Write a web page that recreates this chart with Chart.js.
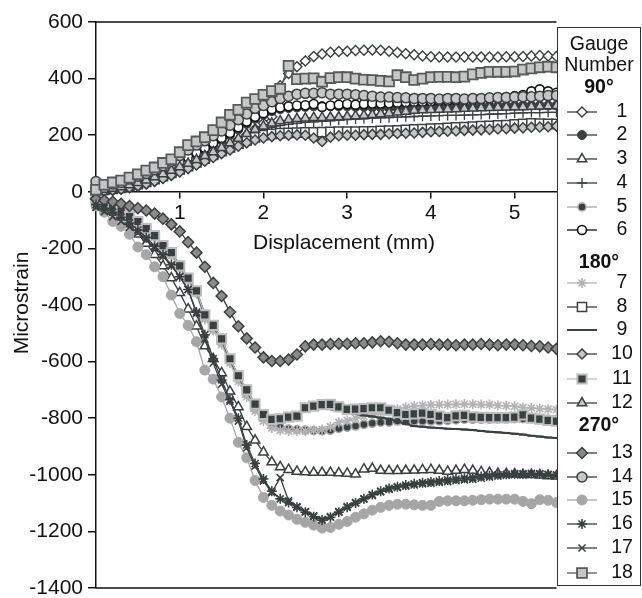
<!DOCTYPE html>
<html><head><meta charset="utf-8">
<script src="https://cdn.jsdelivr.net/npm/chart.js@4.4.0/dist/chart.umd.min.js"></script>
<style>html,body{margin:0;padding:0;background:#fff;}#wrap{position:relative;width:642px;height:598px;}</style>
</head><body><div id="wrap"><canvas id="c" width="642" height="598"></canvas></div>
<script>
// ---- DATA ----
const displacement = [0,0.1,0.2,0.3,0.4,0.5,0.6,0.7,0.8,0.9,1.0,1.1,1.2,1.3,1.4,1.5,1.6,1.7,1.8,1.9,2.0,2.1,2.2,2.3,2.4,2.5,2.6,2.7,2.8,2.9,3.0,3.1,3.2,3.3,3.4,3.5,3.6,3.7,3.8,3.9,4.0,4.1,4.2,4.3,4.4,4.5,4.6,4.7,4.8,4.9,5.0,5.1,5.2,5.3,5.4,5.5];
const xTickValues = [1,2,3,4,5];
const yTickValues = [600,400,200,0,-200,-400,-600,-800,-1000,-1200,-1400];
const gaugeNames = ['1','2','3','4','5','6','7','8','9','10','11','12','13','14','15','16','17','18'];
const groupNames = ['90°','180°','270°'];
const legendTitle = ['Gauge','Number'];
const xTitle = 'Displacement (mm)';
const yTitle = 'Microstrain';

const gauge1 = [0,2,5,9,14,20,28,37,48,60,73,87,101,116,132,148,165,183,202,222,242,265,375,418,442,462,478,487,493,496,497,499,500,501,500,497,492,488,484,480,477,476,476,476,476,476,476,476,476,477,477,478,480,482,480,478];
const gauge2 = [10,12,16,22,30,40,50,62,75,88,102,116,132,148,165,182,200,220,240,258,272,285,292,296,298,300,302,303,303,302,302,300,300,298,298,296,296,297,298,298,300,300,300,301,302,302,303,303,304,304,304,305,305,305,305,305];
const gauge3 = [-25,-40,-60,-85,-115,-150,-183,-222,-262,-305,-357,-415,-475,-545,-590,-640,-705,-760,-830,-878,-920,-955,-972,-982,-988,-990,-992,-992,-992,-994,-995,-998,-980,-978,-985,-986,-986,-985,-984,-983,-982,-985,-988,-985,-982,-985,-990,-992,-995,-996,-998,-1000,-1000,-1002,-1004,-1005];
const gauge4 = [3,6,10,15,22,30,39,50,61,73,86,98,111,124,138,152,167,182,197,210,220,228,234,238,242,245,247,249,251,253,255,257,258,260,261,262,264,265,266,267,268,269,270,270,271,272,273,274,275,276,278,279,280,280,281,281];
const gauge5 = [-30,-36,-46,-62,-80,-102,-126,-155,-190,-222,-265,-310,-355,-445,-485,-532,-598,-660,-715,-765,-800,-822,-832,-838,-840,-842,-844,-845,-843,-836,-832,-828,-822,-818,-814,-814,-810,-810,-810,-810,-810,-810,-808,-806,-804,-804,-804,-804,-803,-803,-802,-802,-802,-803,-804,-805];
const gauge6 = [20,15,18,24,32,42,52,64,78,92,108,122,138,155,172,190,208,228,248,265,278,292,298,302,305,306,310,300,305,308,310,308,310,312,312,313,315,316,318,318,320,322,322,324,325,326,328,330,332,335,338,342,355,362,355,350];
const gauge7 = [-30,-35,-45,-62,-82,-105,-130,-160,-195,-225,-270,-315,-360,-450,-490,-540,-605,-670,-725,-775,-810,-835,-843,-845,-845,-845,-843,-840,-830,-815,-808,-800,-793,-786,-780,-775,-768,-762,-757,-755,-753,-752,-752,-751,-750,-751,-752,-752,-755,-756,-758,-762,-764,-766,-768,-770];
const gauge8 = [5,7,10,14,20,27,35,45,55,67,79,91,104,117,130,144,157,170,182,192,200,205,207,208,209,210,210,211,212,213,213,213,214,214,215,216,217,219,221,222,223,224,226,228,229,230,232,233,235,236,238,240,242,241,240,240];
const gauge9 = [-35,-42,-50,-66,-86,-104,-128,-153,-188,-214,-262,-306,-352,-436,-474,-522,-592,-652,-703,-752,-790,-805,-805,-795,-785,-768,-762,-760,-768,-772,-778,-785,-790,-794,-798,-802,-812,-820,-828,-830,-833,-835,-837,-838,-840,-842,-845,-848,-850,-852,-855,-858,-862,-865,-868,-870];
const gauge10 = [0,3,6,10,15,21,28,37,47,58,70,82,95,108,121,135,148,161,173,183,190,195,198,200,201,200,190,178,193,198,200,200,202,203,203,205,206,207,208,210,212,213,214,215,217,218,219,220,222,223,225,226,228,229,230,232];
const gauge11 = [-25,-45,-52,-68,-88,-105,-130,-155,-190,-215,-262,-305,-350,-435,-472,-520,-590,-650,-700,-750,-787,-804,-802,-796,-793,-763,-757,-752,-751,-760,-769,-768,-766,-763,-763,-772,-780,-787,-785,-782,-787,-793,-798,-792,-790,-795,-797,-798,-798,-798,-796,-788,-800,-803,-808,-810];
const gauge12 = [5,8,12,17,24,32,41,52,63,75,88,100,113,127,141,156,172,188,205,220,232,242,250,255,258,260,262,262,263,264,266,268,270,272,275,278,281,284,287,289,290,291,292,293,294,295,296,297,298,299,300,300,301,302,303,304];
const gauge13 = [-25,-30,-35,-42,-50,-58,-66,-77,-95,-115,-140,-178,-215,-265,-322,-368,-425,-475,-518,-550,-585,-598,-598,-593,-575,-546,-540,-540,-538,-537,-537,-535,-535,-532,-528,-530,-535,-540,-540,-540,-538,-540,-540,-542,-540,-540,-538,-540,-542,-540,-540,-542,-545,-546,-550,-555];
const gauge14 = [36,25,28,33,45,55,65,78,92,108,128,148,165,180,198,215,235,255,275,295,305,318,330,338,345,348,348,350,345,345,345,343,340,338,335,335,333,332,330,330,330,328,330,330,328,330,330,332,333,333,335,336,336,338,340,340];
const gauge15 = [-50,-72,-105,-122,-150,-195,-222,-265,-300,-365,-430,-472,-530,-630,-662,-725,-800,-885,-940,-1020,-1080,-1108,-1128,-1142,-1157,-1168,-1178,-1188,-1186,-1175,-1165,-1150,-1138,-1125,-1115,-1108,-1104,-1104,-1106,-1108,-1108,-1094,-1092,-1092,-1092,-1090,-1088,-1086,-1086,-1086,-1086,-1094,-1102,-1088,-1090,-1098];
const gauge16 = [-45,-58,-72,-90,-110,-135,-162,-192,-222,-258,-300,-345,-425,-505,-590,-665,-735,-800,-895,-960,-1015,-1058,-1085,-1098,-1115,-1132,-1148,-1160,-1150,-1132,-1115,-1100,-1085,-1070,-1058,-1048,-1042,-1036,-1032,-1028,-1025,-1022,-1018,-1015,-1012,-1010,-1006,-1003,-1000,-998,-996,-996,-995,-996,-998,-1000];
const gauge17 = [-55,-70,-88,-105,-125,-145,-170,-198,-228,-262,-300,-345,-430,-520,-605,-680,-740,-810,-905,-969,-1022,-1063,-1010,-1092,-1112,-1130,-1145,-1158,-1148,-1130,-1112,-1098,-1085,-1073,-1060,-1052,-1045,-1040,-1036,-1032,-1030,-1027,-1024,-1021,-1018,-1016,-1012,-1008,-1005,-1002,-1000,-1000,-998,-998,-1000,-1002];
const gauge18 = [7,25,33,40,50,62,75,86,102,115,140,165,178,193,218,245,272,290,315,328,343,356,364,445,398,400,401,389,402,405,405,400,396,395,392,390,412,405,395,400,405,406,406,405,407,415,420,424,424,424,425,432,436,440,442,440];

const gauges = [gauge1,gauge2,gauge3,gauge4,gauge5,gauge6,gauge7,gauge8,gauge9,gauge10,gauge11,gauge12,gauge13,gauge14,gauge15,gauge16,gauge17,gauge18];

// ---- STYLES ----
const DARK = '#3a3f3f', LIGHT = '#c6c6c6', MID = '#8a8a8a', PALE = '#a6a6a6';
const seriesStyles = [
  {style:'rectRot', r:5, fill:'#fff', stroke:DARK, bw:1.4, line:DARK},
  {style:'circle', r:4.5, fill:DARK, stroke:DARK, bw:1, line:DARK},
  {style:'triangle', r:5.5, fill:'#fff', stroke:DARK, bw:1.5, line:DARK},
  {style:'cross', r:5, fill:DARK, stroke:DARK, bw:1.3, line:DARK},
  {style:'circle', r:4, fill:DARK, stroke:PALE, bw:1.5, line:PALE},
  {style:'circle', r:4.5, fill:'#fff', stroke:'#111', bw:1.6, line:'#111'},
  {style:'star', r:5, fill:PALE, stroke:'#b3b3b3', bw:1.6, line:'#b3b3b3'},
  {style:'rect', r:6.5, fill:'#fff', stroke:DARK, bw:1.5, line:DARK},
  {style:'line', r:4, fill:DARK, stroke:DARK, bw:2, line:DARK, lw:2},
  {style:'rectRot', r:5, fill:LIGHT, stroke:DARK, bw:1.5, line:DARK},
  {style:'rect', r:6.5, fill:DARK, stroke:'#bdbdbd', bw:2, line:'#bdbdbd'},
  {style:'triangle', r:5.5, fill:LIGHT, stroke:DARK, bw:1.5, line:DARK},
  {style:'rectRot', r:5.5, fill:MID, stroke:DARK, bw:1.5, line:DARK},
  {style:'circle', r:5, fill:LIGHT, stroke:DARK, bw:1.5, line:DARK},
  {style:'circle', r:5, fill:PALE, stroke:PALE, bw:1, line:PALE},
  {style:'star', r:5, fill:DARK, stroke:DARK, bw:1.6, line:DARK},
  {style:'crossRot', r:5, fill:DARK, stroke:DARK, bw:1.6, line:DARK},
  {style:'rect', r:7, fill:LIGHT, stroke:'#555a5a', bw:1.8, line:'#555a5a'}
];
const FONT = '"Liberation Sans", Arial, Helvetica, sans-serif';

function myDrawPoint(ctx, o, x, y) {
  const r = o.radius; ctx.beginPath();
  switch (o.pointStyle) {
    case 'circle': ctx.arc(x, y, r, 0, Math.PI*2); break;
    case 'rect': { const s = Math.SQRT1_2*r; ctx.rect(x-s, y-s, 2*s, 2*s); break; }
    case 'rectRot': ctx.moveTo(x-r,y); ctx.lineTo(x,y-r); ctx.lineTo(x+r,y); ctx.lineTo(x,y+r); ctx.closePath(); break;
    case 'triangle': ctx.moveTo(x, y-r); ctx.lineTo(x+r*0.866, y+r/2); ctx.lineTo(x-r*0.866, y+r/2); ctx.closePath(); break;
    case 'cross': ctx.moveTo(x-r,y); ctx.lineTo(x+r,y); ctx.moveTo(x,y-r); ctx.lineTo(x,y+r); break;
    case 'crossRot': { const d = r*0.707; ctx.moveTo(x-d,y-d); ctx.lineTo(x+d,y+d); ctx.moveTo(x-d,y+d); ctx.lineTo(x+d,y-d); break; }
    case 'star': { const d = r*0.707; ctx.moveTo(x-r,y); ctx.lineTo(x+r,y); ctx.moveTo(x,y-r); ctx.lineTo(x,y+r); ctx.moveTo(x-d,y-d); ctx.lineTo(x+d,y+d); ctx.moveTo(x-d,y+d); ctx.lineTo(x+d,y-d); break; }
    case 'line': ctx.moveTo(x-r,y); ctx.lineTo(x+r,y); break;
  }
  ctx.fill(); if (o.borderWidth > 0) ctx.stroke();
}
const drawPt = (Chart.helpers && Chart.helpers.drawPoint) ? Chart.helpers.drawPoint : myDrawPoint;

const decor = {
  id: 'decor',
  afterDraw(chart) {
    const ctx = chart.ctx, a = chart.chartArea;
    ctx.save();
    ctx.strokeStyle = '#111'; ctx.lineWidth = 1.5;
    ctx.beginPath();
    ctx.moveTo(a.left, a.top); ctx.lineTo(a.right, a.top);
    ctx.moveTo(a.left, a.bottom); ctx.lineTo(a.right, a.bottom);
    ctx.stroke();
    ctx.fillStyle = '#111';
    ctx.font = '21px ' + FONT;
    ctx.textAlign = 'center'; ctx.textBaseline = 'middle';
    ctx.fillText(xTitle, 344, 243);
    ctx.save(); ctx.translate(22, 303); ctx.rotate(-Math.PI/2); ctx.fillText(yTitle, 0, 0); ctx.restore();
    const lx = 557, ly = 27, lw = 83, lh = 558;
    ctx.fillStyle = '#fff'; ctx.fillRect(lx, ly, lw, lh);
    ctx.strokeStyle = '#333'; ctx.lineWidth = 1;
    ctx.strokeRect(lx + 0.5, ly + 0.5, lw, lh);
    ctx.fillStyle = '#111';
    ctx.font = '19.5px ' + FONT;
    ctx.fillText(legendTitle[0], 599, 45);
    ctx.fillText(legendTitle[1], 599, 66);
    ctx.font = 'bold 19.5px ' + FONT;
    const groupY = [88, 263, 426];
    groupNames.forEach((g, i) => ctx.fillText(g, 599, groupY[i]));
    const rowY = [112,135,159,183,207,230, 283,307,330,354,379,403, 453,477,500,524,548,573];
    ctx.font = '19.5px ' + FONT;
    gaugeNames.forEach((n, i) => {
      const s = seriesStyles[i], y = rowY[i];
      ctx.strokeStyle = s.line; ctx.lineWidth = s.lw || 1.3;
      ctx.beginPath(); ctx.moveTo(567, y); ctx.lineTo(597, y); ctx.stroke();
      ctx.fillStyle = s.fill; ctx.strokeStyle = s.stroke; ctx.lineWidth = s.bw;
      drawPt(ctx, {pointStyle: s.style, radius: s.r, rotation: 0, borderWidth: s.bw}, 582, y);
      ctx.fillStyle = '#111';
      ctx.fillText(n, 622, y);
    });
    ctx.restore();
  }
};

const datasets = gauges.map((vals, i) => {
  const s = seriesStyles[i];
  return {
    label: 'Gauge ' + gaugeNames[i],
    data: displacement.map((d, k) => ({x: d, y: vals[k]})),
    borderColor: s.line, borderWidth: s.lw || 1.3,
    pointStyle: s.style, pointRadius: s.r, pointHoverRadius: s.r,
    pointBackgroundColor: s.fill, pointBorderColor: s.stroke, pointBorderWidth: s.bw,
    tension: 0, fill: false, clip: false, order: 17 - i
  };
});

new Chart(document.getElementById('c'), {
  type: 'line',
  data: {datasets},
  options: {
    responsive: false, animation: false, events: [],
    layout: {padding: {left: 0, right: 85.5, top: 22, bottom: 10}},
    plugins: {legend: {display: false}, tooltip: {enabled: false}},
    scales: {
      x: {
        type: 'linear', min: 0, max: 5.5, position: {y: 0},
        afterBuildTicks: s => { s.ticks = xTickValues.map(v => ({value: v})); },
        ticks: {font: {family: FONT, size: 21}, color: '#111', padding: 3, maxRotation: 0, autoSkip: false, callback: v => String(v)},
        grid: {drawOnChartArea: false, drawTicks: true, tickLength: 6, color: '#111', lineWidth: 1.5},
        border: {color: '#111', width: 1.5},
        afterFit: s => { s.height = 0; s.paddingLeft = 0; s.paddingRight = 0; }
      },
      y: {
        type: 'linear', min: -1400, max: 600,
        afterBuildTicks: s => { s.ticks = yTickValues.map(v => ({value: v})); },
        ticks: {font: {family: FONT, size: 21}, color: '#111', padding: 5, callback: v => String(v)},
        grid: {drawOnChartArea: false, drawTicks: true, tickLength: 8, color: '#111', lineWidth: 1.5},
        border: {color: '#111', width: 1.5},
        afterFit: s => { s.width = 96; s.paddingTop = 0; s.paddingBottom = 0; }
      }
    }
  },
  plugins: [decor]
});
</script></body></html>
